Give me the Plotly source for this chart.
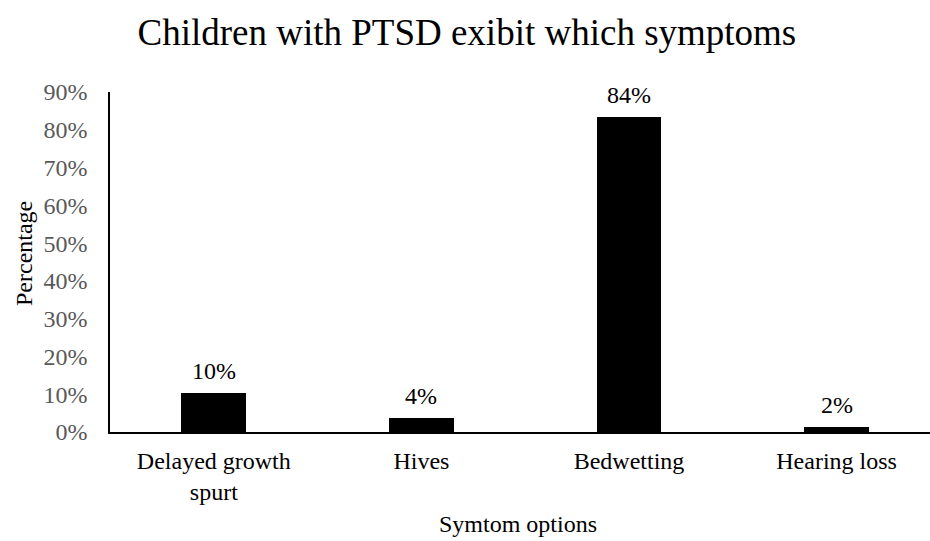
import plotly.graph_objects as go

categories = ["Delayed growth<br>spurt", "Hives", "Bedwetting", "Hearing loss"]
values = [0.102, 0.036, 0.835, 0.014]
labels = ["10%", "4%", "84%", "2%"]
y_ticks = [0, 0.1, 0.2, 0.3, 0.4, 0.5, 0.6, 0.7, 0.8, 0.9]
y_tick_labels = ["0%", "10%", "20%", "30%", "40%", "50%", "60%", "70%", "80%", "90%"]

FONT = "Liberation Serif, Times New Roman, serif"
FS = 24
W, H = 930, 541
ML, MR, MT, MB = 110, 0, 92, 109
plot_w, plot_h = W - ML - MR, H - MT - MB


def px_to_paper(px, py):
    return (px - ML) / plot_w, (H - MB - py) / plot_h


xs = list(range(len(categories)))

fig = go.Figure(go.Bar(
    x=xs,
    y=values,
    marker=dict(color="#000000", line=dict(width=0)),
    width=0.313,
    hoverinfo="skip",
))

annotations = []
for xi, v, lab in zip(xs, values, labels):
    annotations.append(dict(
        x=xi, y=v, xref="x", yref="y", text=lab, showarrow=False,
        yanchor="middle", yshift=22,
        font=dict(family=FONT, size=FS, color="#000000"),
    ))
px_, py_ = px_to_paper(24, 254)
annotations.append(dict(
    x=px_, y=py_, xref="paper", yref="paper", text="Percentage", showarrow=False,
    textangle=-90, xanchor="center", yanchor="middle",
    font=dict(family=FONT, size=FS, color="#000000"),
))
px_, py_ = px_to_paper(518, 524)
annotations.append(dict(
    x=px_, y=py_, xref="paper", yref="paper", text="Symtom options", showarrow=False,
    xanchor="center", yanchor="middle",
    font=dict(family=FONT, size=FS, color="#000000"),
))

fig.update_layout(
    width=W, height=H,
    margin=dict(l=ML, r=MR, t=MT, b=MB, autoexpand=False),
    paper_bgcolor="white", plot_bgcolor="white",
    font=dict(family=FONT, size=FS, color="#595959"),
    title=dict(text="Children with PTSD exibit which symptoms",
               font=dict(family=FONT, size=37, color="#000000"),
               x=0.502, xanchor="center", y=0.94, yanchor="middle"),
    showlegend=False,
    bargap=0,
    annotations=annotations,
)
fig.update_xaxes(
    tickmode="array", tickvals=xs, ticktext=categories,
    range=[-0.5, 3.45],
    showline=True, linecolor="#000000", linewidth=1.5,
    showgrid=False, zeroline=False, ticks="",
    ticklabelstandoff=6, automargin=False,
    tickfont=dict(family=FONT, size=FS, color="#000000"),
)
fig.update_yaxes(
    range=[0, 0.9],
    tickmode="array", tickvals=y_ticks, ticktext=y_tick_labels,
    showline=True, linecolor="#000000", linewidth=1.5,
    showgrid=False, zeroline=False, ticks="",
    ticklabelstandoff=16, automargin=False,
    tickfont=dict(family=FONT, size=FS, color="#595959"),
)

fig.write_html("out.html")
